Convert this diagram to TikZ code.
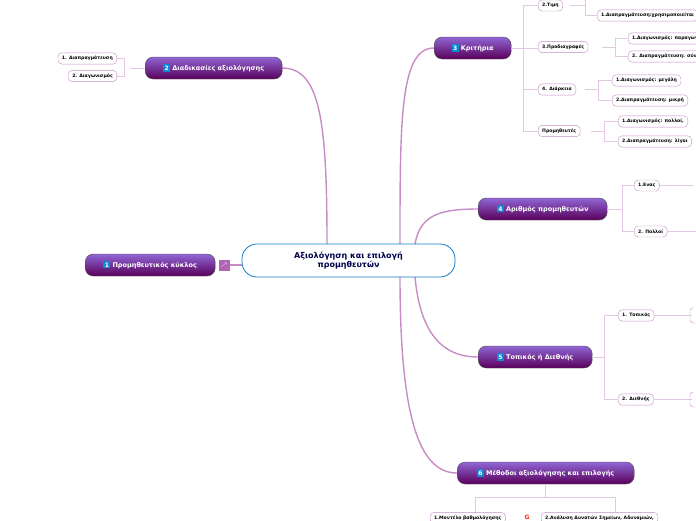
\documentclass[tikz,border=0pt]{standalone}
\usepackage{fontspec}
\setmainfont{DejaVu Sans}
\newcommand{\numbox}[1]{{\setlength\fboxsep{1.3pt}\colorbox{cyan!70!blue}{\fontsize{6}{6}\selectfont #1}}}
\begin{document}
\begin{tikzpicture}[x=1pt,y=-1pt,
 main/.style={draw=black!70,rounded corners=8pt,top color=violet!55!blue!60!white,bottom color=violet!70!black,text=white,font=\bfseries\fontsize{6.5}{7}\selectfont,minimum height=22pt,inner xsep=8pt,anchor=west},
 sub/.style={draw=violet!45,rounded corners=4pt,fill=white,font=\bfseries\fontsize{4.6}{5}\selectfont,minimum height=11pt,inner xsep=4pt,anchor=west},
 br/.style={draw=violet!22,line width=0.8pt},
 mc/.style={draw=violet!45,line width=1.4pt}]
\useasboundingbox (0,0) rectangle (696,520);
% connectors main
\draw[mc] (327,244) .. controls (327,120) and (320,68) .. (282,68);
\draw[mc] (400,244) .. controls (400,120) and (400,48) .. (434,48);
\draw[mc] (415,244) .. controls (420,215) and (440,209) .. (478,209);
\draw[mc] (415,277) .. controls (420,330) and (440,357) .. (478,357);
\draw[mc] (400,277) .. controls (400,420) and (420,473) .. (457,473);
\draw[mc] (230,265) -- (242,265);
% center
\node[draw=cyan!60!blue,line width=0.8pt,rounded corners=15pt,fill=white,minimum width=213pt,minimum height=33pt,align=center,font=\bfseries\fontsize{8}{9.5}\selectfont,text=blue!30!black] (c) at (348.5,260.5) {Αξιολόγηση και επιλογή\\προμηθευτών};
% main nodes
\node[main,minimum width=130pt] (m1) at (85,265) {\numbox{1} Προμηθευτικός κύκλος};
\node[draw=violet!60,fill=violet!60,minimum size=10pt,inner sep=0pt,text=white,font=\tiny] (ic) at (224,265) {$\nearrow$};
\node[main,minimum width=137pt] (m2) at (145,68) {\numbox{2} Διαδικασίες αξιολόγησης};
\node[main,minimum width=77pt] (m3) at (434,48) {\numbox{3} Κριτήρια};
\node[main,minimum width=129pt] (m4) at (478,209) {\numbox{4} Αριθμός προμηθευτών};
\node[main,minimum width=114pt] (m5) at (478,357) {\numbox{5} Τοπικός ή Διεθνής};
\node[main,minimum width=177pt] (m6) at (457,473) {\numbox{6} Μέθοδοι αξιολόγησης και επιλογής};
% group 2
\draw[br] (145,68) -- (130,68); \draw[br] (117,58.5) -| (124,76) -- (117,76);
\node[sub,anchor=east] (a1) at (117,58.5) {1. Διαπραγμάτευση};
\node[sub,anchor=east] (a2) at (117,76) {2. Διαγωνισμός};
% group 3
\draw[br] (511,48) -- (538,48);
\draw[br] (538,5.5) -| (523,131) -- (538,131);
\draw[br] (523,89.5) -- (538,89.5);
\node[sub] (t2) at (538,5.5) {2.Τιμη};
\node[sub] (t3) at (538,47) {3.Προδιαγραφές};
\node[sub] (t4) at (538,89.5) {4. Διάρκεια};
\node[sub] (t5) at (538,131) {Προμηθευτές};
\draw[br] (570,5.5) -- (585,5.5) (585,-2) -- (585,15.5) -- (597,15.5);
\node[sub] (t21) at (597,15.5) {1.Διαπραγμάτευση:χρησιμοποιείται};
\draw[br] (602,47) -- (615,47) (615,38.5) -- (615,56.5) (615,38.5) -- (628,38.5) (615,56.5) -- (628,56.5);
\node[sub] (t31) at (628,38.5) {1.Διαγωνισμός: παραγωγή};
\node[sub] (t32) at (628,56.5) {2. Διαπραγμάτευση: σύνθετα};
\draw[br] (585,89.5) -- (598,89.5) (598,80.5) -- (598,100.5) (598,80.5) -- (612,80.5) (598,100.5) -- (612,100.5);
\node[sub] (t41) at (612,80.5) {1.Διαγωνισμός: μεγάλη};
\node[sub] (t42) at (612,100.5) {2.Διαπραγμάτευση: μικρή};
\draw[br] (591,131) -- (604,131) (604,121.5) -- (604,141.5) (604,121.5) -- (618,121.5) (604,141.5) -- (618,141.5);
\node[sub] (t51) at (618,121.5) {1.Διαγωνισμός: πολλοί,};
\node[sub] (t52) at (618,141.5) {2.Διαπραγμάτευση: λίγοι};
% group 4
\draw[br] (607,209) -- (622,209) (622,185.5) -- (622,231.5) (622,185.5) -- (634,185.5) (622,231.5) -- (634,231.5);
\node[sub] (n1) at (634,185.5) {1.Ενας};
\node[sub] (n2) at (634,231.5) {2. Πολλοί};
\draw[br] (n1.east) -- (694,185.5);
\draw[br] (n2.east) -- (696,231.5);
% group 5
\draw[br] (592,357) -- (604,357) (604,315.5) -- (604,399.5) (604,315.5) -- (618,315.5) (604,399.5) -- (618,399.5);
\node[sub] (l1) at (618,315.5) {1. Τοπικός};
\node[sub] (l2) at (618,399.5) {2. Διεθνής};
\draw[br] (l1.east) -- (692,315.5) (l2.east) -- (692,399.5);
\draw[draw=violet!45,rounded corners=3pt] (692,308) -- (690,308) -- (690,323) -- (700,323);
\draw[draw=violet!45,rounded corners=3pt] (692,392) -- (690,392) -- (690,407) -- (700,407);
% group 6
\draw[br] (545,484) -- (545,497) (475,512) -- (475,497) -- (615,497) -- (615,512);
\node[sub] (v1) at (430,518) {1.Μοντέλο βαθμολόγησης};
\node[sub] (v2) at (541,518) {2.Ανάλυση Δυνατών Σημείων, Αδυναμιών,};
\node[font=\bfseries\fontsize{6}{6}\selectfont,text=red!70!orange] at (527,517) {G};
\end{tikzpicture}
\end{document}
